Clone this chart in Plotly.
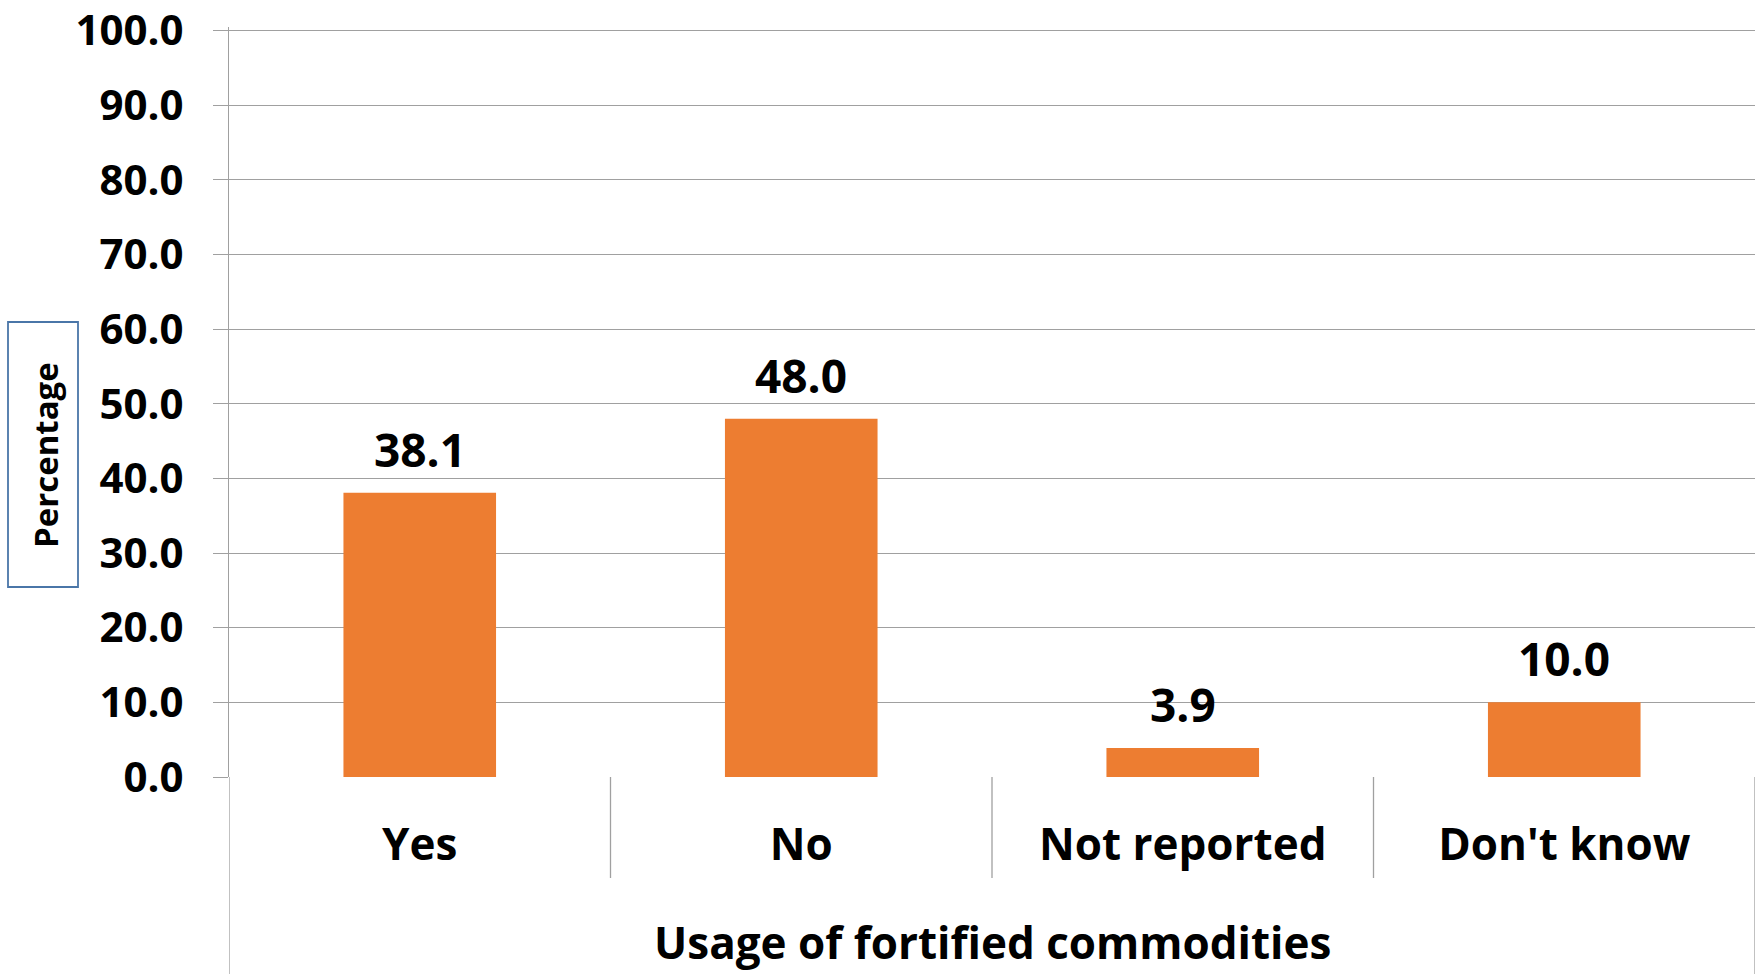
import plotly.graph_objects as go

categories = ["Yes", "No", "Not reported", "Don't know"]
values = [38.1, 48.0, 3.9, 10.0]
y_ticks = [0, 10, 20, 30, 40, 50, 60, 70, 80, 90, 100]
x_title = "Usage of fortified commodities"
y_title = "Percentage"

FONT = "Open Sans, Noto Sans, Liberation Sans, sans-serif"
GRID = "#A0A0A0"
BAR = "#ED7D31"

W, H = 1760, 974
L, R, T, B = 229, 5, 27, 197
plot_w = W - L - R
plot_h = H - T - B
Y_MAX = 100.5

fig = go.Figure()
fig.add_trace(go.Bar(
    x=categories, y=values, width=0.4,
    marker=dict(color=BAR, line=dict(width=0)),
    showlegend=False, hoverinfo="skip",
))

# data labels above bars
for c, v in zip(categories, values):
    fig.add_annotation(x=c, y=v, xref="x", yref="y", text=f"{v:.1f}",
                       showarrow=False, yanchor="middle", yshift=44,
                       font=dict(family=FONT, size=46, color="black", weight="bold"))

# category divider lines below the axis (Excel-style)
n = len(categories)
for i in range(1, n):
    fig.add_shape(type="line", xref="x", yref="paper", x0=i - 0.5, x1=i - 0.5,
                  y0=0, y1=-101 / plot_h, line=dict(color=GRID, width=1.3), layer="below")
for xb in (-0.5, n - 0.5):
    fig.add_shape(type="line", xref="x", yref="paper", x0=xb, x1=xb,
                  y0=0, y1=-(B + 5) / plot_h, line=dict(color=GRID, width=1.3), layer="below")

# y-axis title in a box
bx0, bx1, by0, by1 = 8, 78, 322, 587
fig.add_shape(type="rect", xref="paper", yref="paper",
              x0=(bx0 - L) / plot_w, x1=(bx1 - L) / plot_w,
              y0=(T + plot_h - by1) / plot_h, y1=(T + plot_h - by0) / plot_h,
              line=dict(color="#4A76A8", width=1.8), fillcolor="rgba(0,0,0,0)")
fig.add_annotation(x=(45 - L) / plot_w, y=(T + plot_h - 455) / plot_h, xref="paper", yref="paper",
                   text=y_title, textangle=-90, showarrow=False,
                   xanchor="center", yanchor="middle",
                   font=dict(family=FONT, size=33, color="black", weight="bold"))

# x-axis title
fig.add_annotation(x=0.5, y=(T + plot_h - 942) / plot_h, xref="paper", yref="paper",
                   text=x_title, showarrow=False, xanchor="center", yanchor="middle",
                   font=dict(family=FONT, size=44, color="black", weight="bold"))

fig.update_layout(
    width=W, height=H, autosize=False,
    margin=dict(l=L, r=R, t=T, b=B, pad=0, autoexpand=False),
    paper_bgcolor="white", plot_bgcolor="white",
    bargap=0.6,
    xaxis=dict(
        type="category", range=[-0.5, n - 0.5], automargin=False,
        showgrid=False, zeroline=False, showline=False,
        ticks="", ticklabelstandoff=38,
        tickfont=dict(family=FONT, size=44, color="black", weight="bold"),
    ),
    yaxis=dict(
        range=[0, Y_MAX], tickvals=y_ticks, tickformat=".1f", automargin=False,
        showgrid=True, gridcolor=GRID, gridwidth=1.3,
        zeroline=False, showline=True, linecolor=GRID, linewidth=1.3,
        ticks="outside", ticklen=15, tickcolor=GRID, tickwidth=1.3,
        ticklabelstandoff=21, ticklabeloverflow="allow",
        tickfont=dict(family=FONT, size=42, color="black", weight="bold"),
    ),
)

fig.write_html("out.html")
